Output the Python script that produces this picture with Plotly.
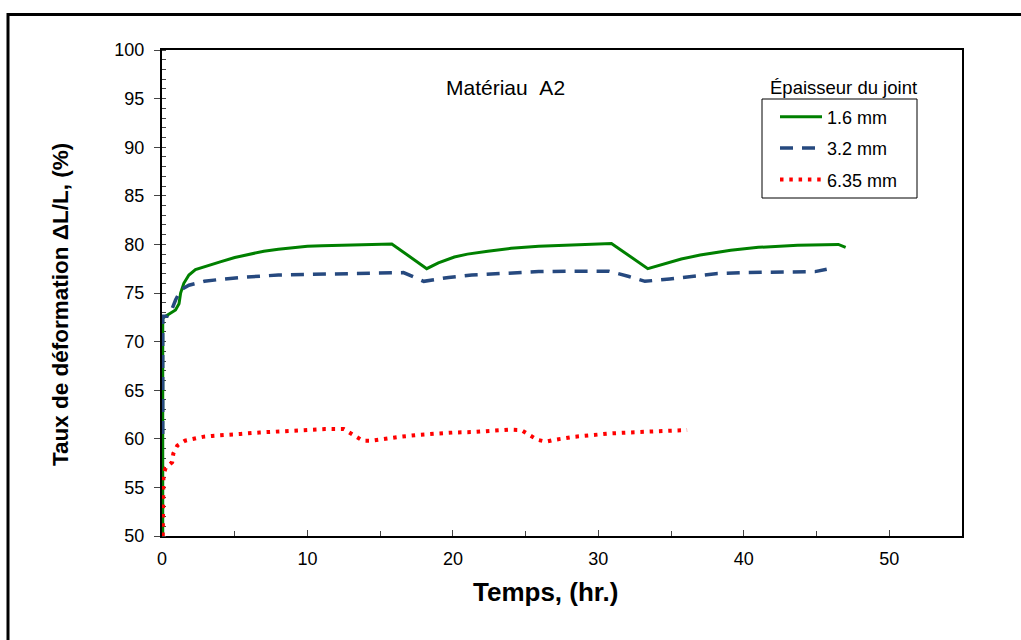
import plotly.graph_objects as go

# ---- data ----
green_t = [0.05, 0.05, 0.14, 0.6, 0.93, 1.17, 1.28, 1.5, 1.85, 2.3, 2.9, 3.5, 4.0, 5.0, 6.0, 7.0, 8.0, 9.0, 10.0,
           11.0, 12.0, 13.0, 14.0, 15.8, 18.2, 19.0, 20.1, 21.0, 22.4, 24.0, 25.9, 28.0, 30.9, 33.4, 34.5,
           35.7, 37.0, 39.1, 41.0, 43.7, 46.5, 47.0]
green_v = [50.0, 72.4, 72.5, 72.9, 73.25, 73.9, 75.0, 76.0, 76.85, 77.4, 77.7, 78.0, 78.2, 78.65, 79.0, 79.3, 79.5,
           79.65, 79.8, 79.85, 79.9, 79.95, 80.0, 80.05, 77.5, 78.1, 78.7, 79.0, 79.3, 79.6, 79.8, 79.95, 80.1,
           77.5, 78.0, 78.5, 78.9, 79.4, 79.7, 79.9, 80.0, 79.7]

blue_t = [0.05, 0.05, 0.35, 0.7, 0.94, 1.28, 1.85, 2.9, 4.0, 5.4, 8.0, 12.0, 16.6, 18.0, 19.7, 21.3, 22.4,
          24.3, 25.9, 28.1, 30.7, 32.1, 33.2, 34.9, 36.9, 38.2, 40.1, 41.7, 43.7, 44.9, 45.7]
blue_v = [60.5, 72.6, 72.6, 73.4, 74.3, 75.3, 75.8, 76.2, 76.4, 76.6, 76.85, 77.0, 77.1, 76.2, 76.6, 76.85, 76.95,
          77.1, 77.2, 77.25, 77.25, 76.7, 76.2, 76.45, 76.8, 77.0, 77.1, 77.15, 77.2, 77.2, 77.45]

red_t = [0.05, 0.1, 0.25, 0.7, 0.78, 1.05, 1.58, 2.2, 2.8, 3.45, 4.1, 5.4, 6.7, 8.5, 10.0, 11.2, 12.5, 13.1,
         13.8, 14.4, 15.0, 16.3, 17.6, 18.9, 20.1, 21.4, 22.7, 23.9, 24.7, 25.2, 25.8, 26.4, 27.0, 28.3, 29.5,
         30.8, 32.1, 33.3, 34.6, 36.1]
red_v = [50.0, 56.3, 57.0, 57.6, 58.5, 59.3, 59.8, 60.0, 60.2, 60.3, 60.4, 60.5, 60.65, 60.8, 60.95, 61.0, 61.0, 60.4,
         59.8, 59.8, 59.95, 60.2, 60.4, 60.55, 60.65, 60.7, 60.8, 60.95, 60.9, 60.4, 59.9, 59.7, 59.9, 60.2, 60.4,
         60.55, 60.65, 60.75, 60.8, 60.9]

series_names = ["1.6 mm", "3.2 mm", "6.35 mm"]
x_ticks = [0, 10, 20, 30, 40, 50]
y_ticks = [50, 55, 60, 65, 70, 75, 80, 85, 90, 95, 100]

FONT = "Liberation Sans, Arial, sans-serif"


def px(xp):
    return (xp - 162) / 800


def py(yp):
    return (536 - yp) / 486


fig = go.Figure()
fig.add_trace(go.Scatter(x=green_t, y=green_v, mode="lines", name=series_names[0], legendgroup="a",
                         line=dict(color="#008000", width=3)))
fig.add_trace(go.Scatter(x=blue_t, y=blue_v, mode="lines", name=series_names[1], legendgroup="b",
                         line=dict(color="#26497F", width=3.5, dash="13px,9px")))
fig.add_trace(go.Scatter(x=red_t, y=red_v, mode="lines", name=series_names[2], legendgroup="c",
                         line=dict(color="#FF0000", width=4, dash="3.5px,5.8px")))

fig.update_layout(
    width=1021, height=640,
    margin=dict(l=162, r=59, t=50, b=104),
    paper_bgcolor="white", plot_bgcolor="white",
    font=dict(family=FONT, color="black", size=18),
    showlegend=True,
    legend=dict(x=px(775), y=py(98.5), xanchor="left", yanchor="top",
                bgcolor="rgba(0,0,0,0)", borderwidth=0,
                font=dict(size=18, family=FONT, color="black"),
                itemwidth=42, tracegroupgap=5, traceorder="grouped"),
    xaxis=dict(range=[0, 55], tickvals=x_ticks, ticks="inside", ticklen=6, tickwidth=1,
               minor=dict(ticks="inside", dtick=5, ticklen=5, tickwidth=1),
               showline=True, linewidth=2, linecolor="black", mirror=True,
               showgrid=False, zeroline=False, layer="below traces",
               tickfont=dict(size=18), ticklabelstandoff=5),
    yaxis=dict(range=[50, 100], tickvals=y_ticks, ticks="outside", ticklen=6, tickwidth=1,
               minor=dict(ticks="inside", dtick=1, ticklen=4, tickwidth=1),
               showline=True, linewidth=2, linecolor="black", mirror=True,
               showgrid=False, zeroline=False, layer="below traces",
               tickfont=dict(size=18), ticklabelstandoff=6),
    shapes=[
        # outer frame
        dict(type="rect", xref="paper", yref="paper",
             x0=px(8), x1=px(1040), y0=py(660), y1=py(14.5),
             line=dict(color="black", width=3), fillcolor="rgba(0,0,0,0)", layer="below"),
        # legend box
        dict(type="rect", xref="paper", yref="paper",
             x0=px(762), x1=px(917), y0=py(198), y1=py(99),
             line=dict(color="black", width=1), fillcolor="rgba(0,0,0,0)", layer="below"),
    ],
    annotations=[
        dict(text="Matériau\u00a0\u00a0A2", xref="paper", yref="paper", x=px(505), y=py(87),
             xanchor="center", yanchor="middle",
             showarrow=False, font=dict(size=21, family=FONT)),
        dict(text="Épaisseur du joint", xref="paper", yref="paper", x=px(843), y=py(87),
             xanchor="center", yanchor="middle",
             showarrow=False, font=dict(size=18.5, family=FONT)),
        dict(text="<b>Taux de déformation ΔL/L, (%)</b>", xref="paper", yref="paper",
             x=px(60), y=py(305), textangle=-90, xanchor="center", yanchor="middle",
             showarrow=False, font=dict(size=22.5, family=FONT)),
        dict(text="<b>Temps, (hr.)</b>", xref="paper", yref="paper",
             x=px(545), y=py(592), xanchor="center", yanchor="middle",
             showarrow=False, font=dict(size=26, family=FONT)),
    ],
)

fig.write_html("out.html", config={"displayModeBar": False},
               post_script="document.body.style.margin='0';document.body.style.overflow='hidden';")
